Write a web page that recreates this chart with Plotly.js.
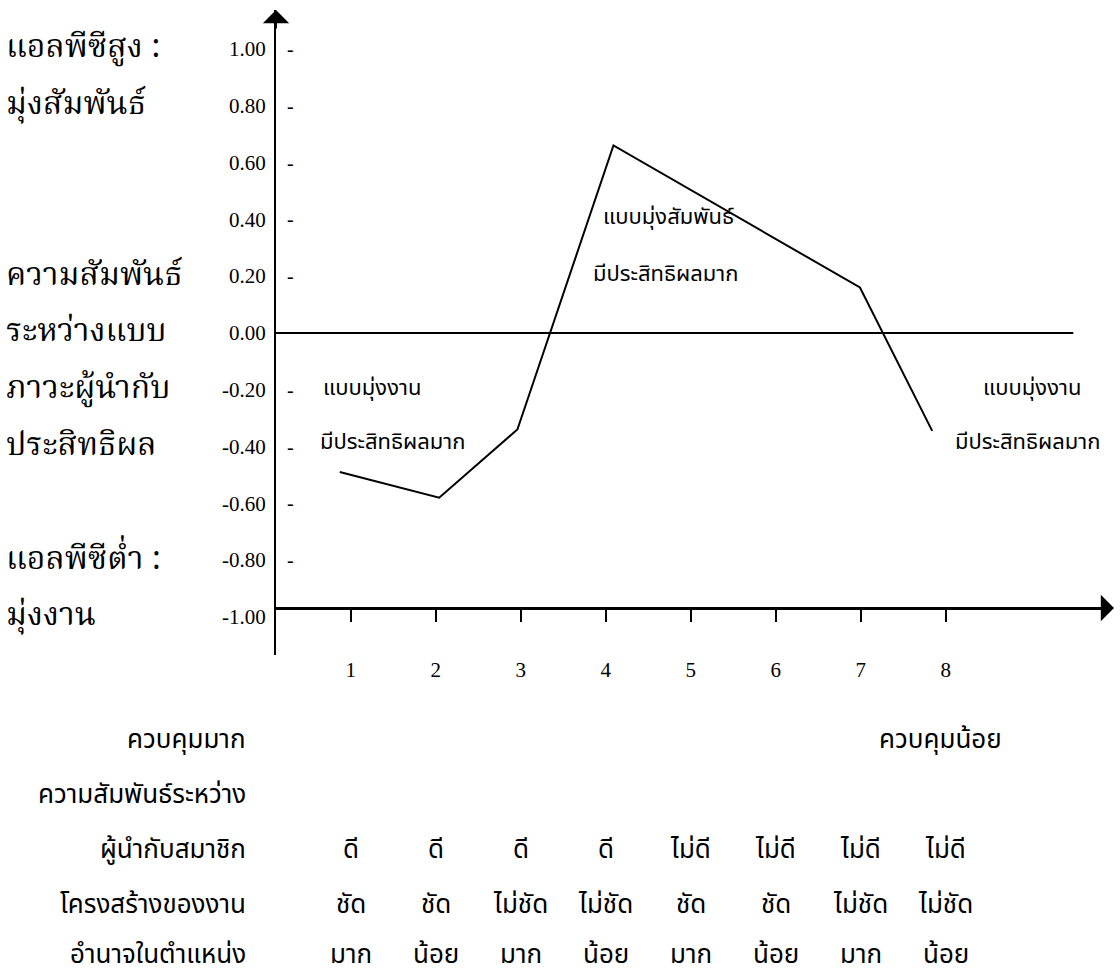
<!DOCTYPE html>
<html>
<head>
<meta charset="utf-8">
<script src="https://cdn.plot.ly/plotly-3.0.1.min.js"></script>
<style>html,body{margin:0;padding:0;background:#fff;}#chart{width:1120px;height:979px;}</style>
</head>
<body>
<div id="chart"></div>
<script>
// ---- data ----
const situations = [1, 2, 3, 4, 5, 6, 7, 8];
const situationLabels = ['1', '2', '3', '4', '5', '6', '7', '8'];
const curveX = [0.87, 2.04, 2.96, 4.09, 6.99, 7.84];
const curveY = [-0.49, -0.58, -0.34, 0.66, 0.16, -0.345];
const yTickVals = [1.0, 0.8, 0.6, 0.4, 0.2, 0.0, -0.2, -0.4, -0.6, -0.8, -1.0];
const yTickText = ['1.00', '0.80', '0.60', '0.40', '0.20', '0.00', '-0.20', '-0.40', '-0.60', '-0.80', '-1.00'];
const leftLabels = ['แอลพีซีสูง :', 'มุ่งสัมพันธ์', 'ความสัมพันธ์', 'ระหว่างแบบ', 'ภาวะผู้นำกับ', 'ประสิทธิผล', 'แอลพีซีต่ำ :', 'มุ่งงาน'];
const leftLabelY = [1.0, 0.8, 0.2, 0.0, -0.2, -0.4, -0.8, -1.0];
const leaderMember = ['ดี', 'ดี', 'ดี', 'ดี', 'ไม่ดี', 'ไม่ดี', 'ไม่ดี', 'ไม่ดี'];
const taskStructure = ['ชัด', 'ชัด', 'ไม่ชัด', 'ไม่ชัด', 'ชัด', 'ชัด', 'ไม่ชัด', 'ไม่ชัด'];
const positionPower = ['มาก', 'น้อย', 'มาก', 'น้อย', 'มาก', 'น้อย', 'มาก', 'น้อย'];
const rowTitles = ['ผู้นำกับสมาชิก', 'โครงสร้างของงาน', 'อำนาจในตำแหน่ง'];

// ---- layout helpers ----
const W = 1120, H = 979;
const M = {l: 276, r: 10, t: 10, b: 324};
const PW = W - M.l - M.r, PH = H - M.t - M.b;
const xRange = [0.12, 0.12 + PW / 85];
const yRange = [-1.134, 1.137];
const py2paper = py => (H - M.b - py) / PH;
const px2paper = px => (px - M.l) / PW;

const thaiSerif = '"Noto Serif Thai", Kinnari, Norasi, "Noto Sans Thai", serif';
const thai = '"Noto Sans Thai", Garuda, Loma, sans-serif';
const serif = '"Liberation Serif", "Times New Roman", serif';

const annotations = [];
// left Thai labels
leftLabels.forEach((t, i) => annotations.push({
  text: t, xref: 'paper', yref: 'y', x: px2paper(4), y: leftLabelY[i],
  xanchor: 'left', yanchor: 'middle', showarrow: false,
  font: {family: thaiSerif, size: 32, color: '#000'}
}));
// dash tick marks to the right of the y axis
yTickVals.forEach(v => {
  if (v === 0 || v === -1) return;
  annotations.push({text: '-', xref: 'paper', yref: 'y', x: px2paper(290), y: v,
    xanchor: 'center', yanchor: 'middle', showarrow: false,
    font: {family: serif, size: 20, color: '#000'}});
});
// in-chart labels
const inChart = [
  ['แบบมุ่งงาน', 372, 388], ['มีประสิทธิผลมาก', 392, 442],
  ['แบบมุ่งสัมพันธ์', 668, 217], ['มีประสิทธิผลมาก', 665, 274],
  ['แบบมุ่งงาน', 1032, 388], ['มีประสิทธิผลมาก', 1027, 442]
];
inChart.forEach(([t, px, py]) => annotations.push({
  text: t, xref: 'paper', yref: 'paper', x: px2paper(px), y: py2paper(py),
  xanchor: 'center', yanchor: 'middle', showarrow: false,
  font: {family: thai, size: 22, color: '#000'}
}));
// bottom labels
const bottomFont = {family: thai, size: 26, color: '#000'};
annotations.push({text: 'ควบคุมมาก', xref: 'paper', yref: 'paper', x: px2paper(248), y: py2paper(740), xanchor: 'right', yanchor: 'middle', showarrow: false, font: bottomFont});
annotations.push({text: 'ควบคุมน้อย', xref: 'paper', yref: 'paper', x: px2paper(940), y: py2paper(740), xanchor: 'center', yanchor: 'middle', showarrow: false, font: bottomFont});
annotations.push({text: 'ความสัมพันธ์ระหว่าง', xref: 'paper', yref: 'paper', x: px2paper(248), y: py2paper(795), xanchor: 'right', yanchor: 'middle', showarrow: false, font: bottomFont});
const rowY = [850, 905, 955];
rowTitles.forEach((t, i) => annotations.push({text: t, xref: 'paper', yref: 'paper', x: px2paper(248), y: py2paper(rowY[i]), xanchor: 'right', yanchor: 'middle', showarrow: false, font: bottomFont}));
[leaderMember, taskStructure, positionPower].forEach((row, r) => row.forEach((t, i) => annotations.push({
  text: t, xref: 'x', yref: 'paper', x: situations[i], y: py2paper(rowY[r]),
  xanchor: 'center', yanchor: 'middle', showarrow: false, font: bottomFont
})));
// axis arrows
annotations.push({text: '', xref: 'paper', yref: 'paper', x: 0, y: 1, ax: 0, ay: 20, showarrow: true, arrowhead: 1, arrowsize: 2.2, arrowwidth: 2, arrowcolor: '#000'});
annotations.push({text: '', xref: 'paper', yref: 'paper', x: px2paper(1114), y: py2paper(608), ax: -20, ay: 0, showarrow: true, arrowhead: 1, arrowsize: 2.2, arrowwidth: 2, arrowcolor: '#000'});

const traces = [{
  type: 'scatter', mode: 'lines', x: curveX, y: curveY,
  line: {color: '#000', width: 2}, hoverinfo: 'skip'
}];

const layout = {
  width: W, height: H, margin: M,
  paper_bgcolor: '#fff', plot_bgcolor: '#fff', showlegend: false,
  xaxis: {
    range: xRange, anchor: 'free', position: py2paper(608),
    showline: true, linecolor: '#000', linewidth: 2.5,
    ticks: 'outside', ticklen: 12, tickwidth: 1.5, tickcolor: '#000',
    tickvals: situations, ticktext: situationLabels, ticklabelstandoff: 30,
    tickfont: {family: serif, size: 21, color: '#000'},
    showgrid: false, zeroline: false, fixedrange: true
  },
  yaxis: {
    range: yRange, showline: true, linecolor: '#000', linewidth: 2,
    ticks: '', tickvals: yTickVals, ticktext: yTickText, ticklabelstandoff: 4,
    tickfont: {family: serif, size: 21, color: '#000'},
    showgrid: false, zeroline: false, fixedrange: true
  },
  shapes: [{type: 'line', xref: 'x', yref: 'y', x0: xRange[0], x1: 9.5, y0: 0, y1: 0, line: {color: '#000', width: 2}}],
  annotations: annotations
};

Plotly.newPlot('chart', traces, layout, {staticPlot: true, displayModeBar: false});
</script>
</body>
</html>
